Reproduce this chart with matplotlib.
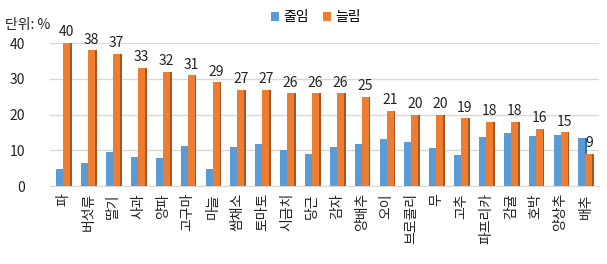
import numpy as np
import matplotlib
matplotlib.use("Agg")
import matplotlib.pyplot as plt

plt.rcParams['font.family'] = ['Noto Sans CJK KR', 'DejaVu Sans']

# data
categories = ['파', '버섯류', '딸기', '사과', '양파', '고구마', '마늘', '쌈채소', '토마토', '시금치', '당근',
              '감자', '양배추', '오이', '브로콜리', '무', '고추', '파프리카', '감귤', '호박', '양상추', '배추']
decrease = [4.7, 6.5, 9.6, 8.2, 7.9, 11.3, 4.9, 10.8, 11.9, 10.2, 9.0,
            10.8, 11.9, 13.1, 12.3, 10.6, 8.8, 13.6, 14.8, 14.1, 14.2, 13.4]
increase = [40, 38, 37, 33, 32, 31, 29, 27, 27, 26, 26, 26, 25, 21, 20, 20, 19, 18, 18, 16, 15, 9]
yticks = [0, 10, 20, 30, 40]

blue, blue_dark = '#5B9BD5', '#3F6F9E'
orange, orange_dark = '#ED7D31', '#A95620'

fig = plt.figure(figsize=(6.07, 2.64), dpi=100)
ax = fig.add_axes([0.082, 0.295, 0.905, 0.542])

x = np.arange(len(categories))
w = 0.28
side = 0.07

# fake 3D side faces
ax.bar(x - w / 2 + side, decrease, w, color=blue_dark, zorder=2)
ax.bar(x + w / 2 + side, increase, w, color=orange_dark, zorder=2)
ax.bar(x - w / 2, decrease, w, color=blue, zorder=3, label='줄임')
ax.bar(x + w / 2, increase, w, color=orange, zorder=3, label='늘림')

for xi, v in zip(x, increase):
    ax.text(xi + w / 2, v + 1.0, f'{v}', ha='center', va='bottom', fontsize=10,
            color='#222222', clip_on=False, zorder=5)

ax.set_ylim(0, 40)
ax.set_xlim(-0.55, len(categories) - 0.45)
ax.set_yticks(yticks)
ax.set_yticklabels([str(t) for t in yticks], fontsize=10, color='#222222')
ax.yaxis.grid(True, color='#D9D9D9', linewidth=1, zorder=0)
ax.set_axisbelow(True)
ax.set_xticks(x)
ax.set_xticklabels(categories, rotation=90, fontsize=10, color='#222222', va='top')
ax.tick_params(axis='both', length=0)
ax.tick_params(axis='x', pad=5)
ax.tick_params(axis='y', pad=18)
for s in ['top', 'right', 'left']:
    ax.spines[s].set_visible(False)
ax.spines['bottom'].set_color('#D9D9D9')

fig.text(0.008, 0.905, '단위: %', fontsize=10, color='#222222', va='center')
fig.legend(loc='center', bbox_to_anchor=(0.52, 0.935), ncol=2, frameon=False,
           fontsize=10, handlelength=0.6, handleheight=0.6, handletextpad=0.3,
           columnspacing=1.0)

fig.savefig('out.png', dpi=100)
